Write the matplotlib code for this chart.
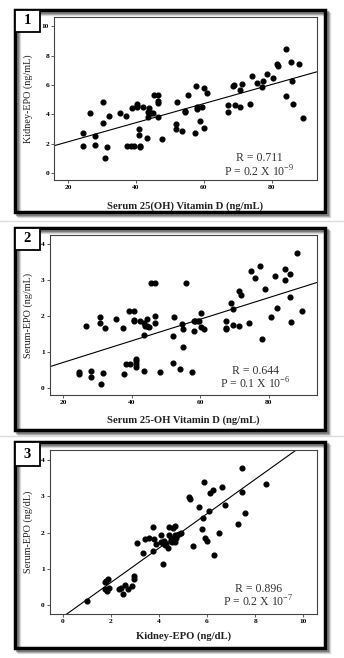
import numpy as np
import matplotlib
matplotlib.use("Agg")
import matplotlib.pyplot as plt
from matplotlib.patches import Rectangle

plt.rcParams['font.family'] = ['Liberation Serif', 'DejaVu Serif']
plt.rcParams['mathtext.fontset'] = 'custom'
plt.rcParams['mathtext.rm'] = 'Liberation Serif'

# panel 1: vitamin D vs kidney EPO
vitd_1 = [24.4, 24.4, 26.4, 27.8, 27.8, 30.4, 30.4, 30.8, 31.3, 32.0, 35.4, 37.0, 37.4, 38.4,
          39.5, 38.9, 40.3, 40.4, 40.4, 40.9, 41.0, 41.2, 41.2, 42.2, 43.1, 43.4, 43.5, 43.9,
          44.3, 44.9, 45.2, 46.6, 46.5, 46.6, 46.5, 47.7, 51.8, 51.8, 52.1, 53.7, 54.4, 54.5,
          55.4, 57.5, 57.7, 57.9, 57.9, 58.8, 59.4, 60.0, 60.0, 60.8, 67.1, 67.1, 68.7, 69.0,
          69.2, 70.8, 70.8, 71.4, 73.7, 74.2, 75.7, 77.1, 77.5, 78.5, 80.5, 81.5, 81.8, 84.2,
          84.2, 85.7, 85.9, 86.3, 88.0, 89.3]
kepo_1 = [2.73, 1.86, 4.11, 2.52, 1.89, 4.82, 3.43, 1.02, 1.80, 3.89, 4.11, 3.89, 1.86, 1.86,
          1.86, 4.43, 4.48, 4.70, 4.57, 2.98, 2.59, 1.86, 1.80, 4.48, 2.39, 3.80, 4.18, 4.43,
          4.11, 4.07, 5.32, 5.32, 4.89, 4.80, 3.82, 2.34, 3.34, 2.98, 4.82, 2.89, 4.16, 4.25,
          5.32, 2.75, 5.91, 4.48, 4.34, 3.57, 4.52, 5.80, 3.09, 5.43, 4.66, 4.16, 5.91, 5.98,
          4.66, 4.52, 5.66, 6.07, 4.68, 6.64, 6.11, 5.84, 6.30, 6.75, 6.50, 7.43, 7.30, 8.43,
          5.27, 7.59, 6.25, 4.68, 7.45, 3.77]

# panel 2: vitamin D vs serum EPO
vitd_2 = [24.7, 24.7, 26.6, 28.0, 28.0, 30.7, 30.7, 31.1, 31.7, 32.2, 35.5, 37.3, 37.7, 38.4,
          39.6, 39.2, 40.6, 40.6, 40.6, 41.2, 41.2, 41.2, 41.2, 42.5, 43.5, 43.5, 43.5, 43.9,
          44.3, 44.5, 45.0, 45.5, 46.8, 46.8, 46.9, 48.1, 52.0, 52.0, 52.4, 54.2, 54.6, 55.0,
          55.0, 55.7, 57.7, 58.1, 58.1, 58.6, 59.2, 59.6, 60.3, 60.3, 61.2, 67.6, 67.6, 67.6,
          69.1, 69.5, 69.5, 71.3, 71.3, 71.8, 74.2, 74.8, 76.1, 77.5, 78.1, 78.8, 80.8, 81.7,
          82.3, 84.7, 84.7, 86.1, 86.1, 86.6, 88.3, 89.7]
sepo_2 = [0.46, 0.40, 1.73, 0.48, 0.32, 1.99, 1.82, 0.12, 0.43, 1.68, 1.92, 1.68, 0.39, 0.67,
          0.67, 2.15, 2.15, 1.90, 1.86, 0.82, 0.75, 0.67, 0.60, 1.86, 1.80, 1.49, 0.48, 1.73,
          1.91, 1.73, 1.71, 2.93, 2.00, 1.80, 2.93, 0.44, 1.46, 0.71, 1.99, 0.52, 1.78, 1.64,
          1.15, 2.93, 0.44, 1.59, 1.86, 1.86, 1.86, 1.86, 2.08, 1.71, 1.64, 1.88, 1.68, 1.64,
          2.38, 2.19, 1.75, 2.70, 1.73, 2.60, 1.82, 3.27, 3.07, 3.40, 1.38, 2.76, 1.99, 3.12,
          2.24, 3.32, 3.00, 3.17, 2.54, 1.83, 3.77, 2.15]

# panel 3: kidney EPO vs serum EPO
kepo_3 = [1.02, 1.77, 1.80, 1.88, 1.77, 1.83, 1.91, 2.33, 2.41, 2.52, 2.58, 2.73, 2.88, 2.96,
          2.96, 3.07, 3.32, 3.41, 3.57, 3.77, 3.77, 3.80, 3.88, 4.10, 4.10, 4.16, 4.16, 4.21,
          4.24, 4.29, 4.38, 4.43, 4.43, 4.49, 4.52, 4.54, 4.60, 4.65, 4.65, 4.68, 4.71, 4.74,
          4.82, 4.90, 5.26, 5.29, 5.40, 5.65, 5.79, 5.84, 5.87, 5.90, 6.01, 6.09, 6.12, 6.23,
          6.30, 6.48, 6.62, 6.76, 7.29, 7.45, 7.45, 7.59, 8.45]
sepo_3 = [0.12, 0.63, 0.67, 0.73, 0.43, 0.39, 0.46, 0.44, 0.48, 0.30, 0.56, 0.45, 0.51, 0.80,
          0.72, 1.70, 1.44, 1.83, 1.84, 2.15, 1.48, 1.81, 1.67, 1.92, 1.74, 1.71, 1.13, 1.78,
          1.66, 1.67, 1.58, 2.15, 1.93, 1.84, 1.78, 1.73, 2.13, 2.19, 1.93, 1.75, 1.84, 1.93,
          1.97, 2.00, 2.99, 2.94, 1.63, 2.70, 2.10, 2.41, 3.40, 1.86, 1.76, 2.59, 3.08, 3.17,
          1.38, 1.98, 3.27, 2.76, 2.24, 3.77, 3.13, 2.55, 3.33]

# regression lines (slope, intercept)
fit_1 = [0.065, 0.827]
fit_2 = [0.030, 0.117]
fit_3 = [0.475, -0.33]

r_texts = ["R = 0.711", "R = 0.644", "R = 0.896"]
p_texts = [r"P = 0.2 X 10$^{\mathregular{-9}}$", r"P = 0.1 X 10$^{\mathregular{-6}}$",
           r"P = 0.2 X 10$^{\mathregular{-7}}$"]
xlabels = ["Serum 25(OH) Vitamin D (ng/mL)", "Serum 25-OH Vitamin D (ng/mL)", "Kidney-EPO (ng/dL)"]
ylabels = ["Kidney-EPO (ng/mL)", "Serum-EPO (ng/mL)", "Serum-EPO (ng/dL)"]

W, H = 344, 658
fig = plt.figure(figsize=(W / 100, H / 100), dpi=100)


def rect(x0, y0, x1, y1):
    # pixel box (top-left origin) -> figure fraction
    return [x0 / W, 1 - y1 / H, (x1 - x0) / W, (y1 - y0) / H]


def frame(y0, y1, label, box_y1):
    x0, x1 = 15, 325
    # soft shadow
    for off, a in [(4, 0.12), (3, 0.2), (2, 0.3)]:
        fig.patches.append(Rectangle((x0 / W + off / W, 1 - y1 / H - off / H), (x1 - x0) / W, (y1 - y0) / H,
                                     transform=fig.transFigure, fc='none', ec='black', lw=2.4, alpha=a, zorder=0))
    fig.patches.append(Rectangle((x0 / W, 1 - y1 / H), (x1 - x0) / W, (y1 - y0) / H,
                                 transform=fig.transFigure, fc='none', ec='black', lw=2.5, zorder=5))
    fig.patches.append(Rectangle((x0 / W, 1 - box_y1 / H), (40 - x0) / W, (box_y1 - y0) / H,
                                 transform=fig.transFigure, fc='white', ec='black', lw=1.3, zorder=6))
    fig.text((x0 + 40) / 2 / W, 1 - (y0 + box_y1) / 2 / H, label, ha='center', va='center',
             fontsize=10.5, fontweight='bold', zorder=7)


frame(10, 212, "1", 32)
frame(228, 430, "2", 250)
frame(442, 648, "3", 466)

# faint separators from the original image
for yy in [220.5, 435.5]:
    fig.add_artist(plt.Line2D([0, 1], [1 - yy / H] * 2, transform=fig.transFigure, color='#dcdcdc', lw=1.0))

panels = [
    dict(pos=rect(54.3, 16.7, 316.7, 180), x=vitd_1, y=kepo_1, fit=fit_1, xlim=(15.9, 93.3), ylim=(-0.48, 10.65),
         xt=[20, 40, 60, 80], yt=[0, 2, 4, 6, 8, 10], ylx=-0.081, xly=-0.13, tx=0.78, ry=0.135, py=0.05),
    dict(pos=rect(50, 235, 317, 395), x=vitd_2, y=sepo_2, fit=fit_2, xlim=(16.1, 94.1), ylim=(-0.19, 4.26),
         xt=[20, 40, 60, 80], yt=[0, 1, 2, 3, 4], ylx=-0.064, xly=-0.125, tx=0.77, ry=0.15, py=0.07),
    dict(pos=rect(50, 450, 317, 614), x=kepo_3, y=sepo_3, fit=fit_3, xlim=(-0.53, 10.57), ylim=(-0.25, 4.28),
         xt=[0, 2, 4, 6, 8, 10], yt=[0, 1, 2, 3, 4], ylx=-0.064, xly=-0.105, tx=0.78, ry=0.152, py=0.073),
]

for i, p in enumerate(panels):
    ax = fig.add_axes(p['pos'])
    ax.plot(p['x'], p['y'], 'o', color='black', ms=3.4, mec='black')
    xs = np.array(p['xlim'])
    ax.plot(xs, p['fit'][0] * xs + p['fit'][1], color='black', lw=0.8)
    ax.set_xlim(p['xlim'])
    ax.set_ylim(p['ylim'])
    ax.set_xticks(p['xt'])
    ax.set_yticks(p['yt'])
    for s in ax.spines.values():
        s.set_color('#444444')
        s.set_linewidth(0.8)
    ax.tick_params(direction='out', length=2.2, width=0.6, color='#444444', labelsize=5.3, pad=1.5)
    for lab in ax.get_xticklabels() + ax.get_yticklabels():
        lab.set_fontweight('bold')
    ax.set_xlabel(xlabels[i], fontsize=7.7, fontweight='bold', color='#222222')
    ax.xaxis.set_label_coords(0.5, p['xly'])
    ax.set_ylabel(ylabels[i], fontsize=7.3, color='#222222')
    ax.yaxis.set_label_coords(p['ylx'], 0.5)
    ax.text(p['tx'], p['ry'], r_texts[i], transform=ax.transAxes, ha='center', va='center',
            fontsize=8.5, color='#333333')
    ax.text(p['tx'], p['py'], p_texts[i], transform=ax.transAxes, ha='center', va='center',
            fontsize=8.5, color='#333333')

fig.savefig("out.png", dpi=100)
